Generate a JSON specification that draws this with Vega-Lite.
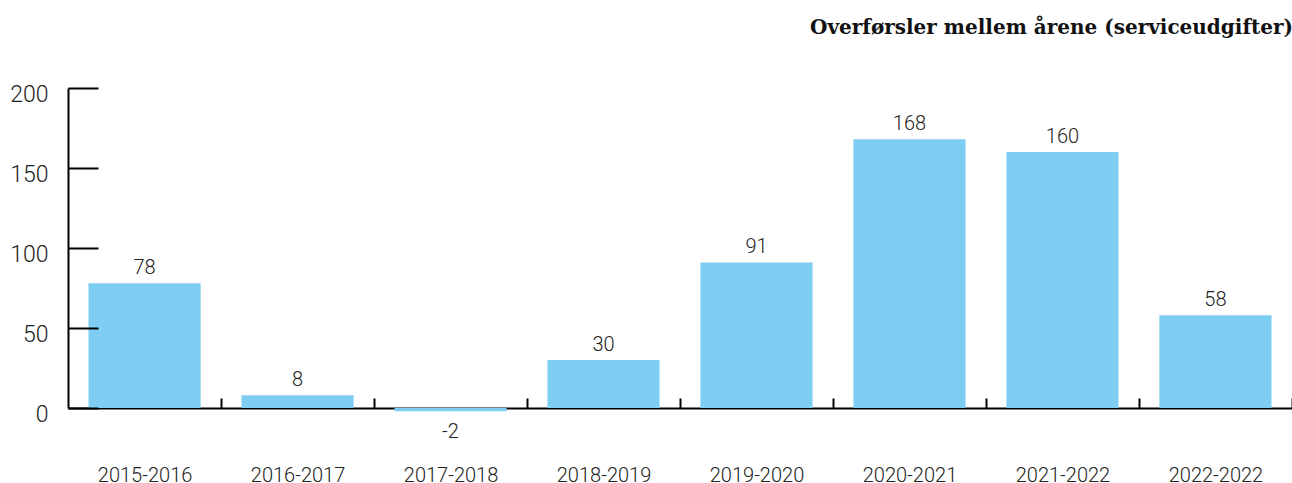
{
  "$schema": "https://vega.github.io/schema/vega-lite/v6.json",
  "width": 1224,
  "height": 320,
  "autosize": "none",
  "padding": {"left": 68, "top": 88, "right": 0, "bottom": 75},
  "background": "white",
  "config": {"view": {"stroke": null}, "font": "Roboto"},
  "title": {
    "text": "Overførsler mellem årene (serviceudgifter)",
    "anchor": "end",
    "font": "DejaVu Serif",
    "fontSize": 20,
    "fontWeight": "bold",
    "color": "#111111",
    "baseline": "alphabetic",
    "offset": 29
  },
  "data": {
    "values": [
      {"period": "2015-2016", "value": 78},
      {"period": "2016-2017", "value": 8},
      {"period": "2017-2018", "value": -2},
      {"period": "2018-2019", "value": 30},
      {"period": "2019-2020", "value": 91},
      {"period": "2020-2021", "value": 168},
      {"period": "2021-2022", "value": 160},
      {"period": "2022-2022", "value": 58}
    ]
  },
  "encoding": {
    "x": {
      "field": "period",
      "type": "nominal",
      "sort": null,
      "scale": {"paddingInner": 0.267, "paddingOuter": 0.134},
      "axis": {
        "title": null,
        "labelAngle": 0,
        "labelFontSize": 20,
        "labelFontWeight": 300,
        "labelColor": "#222222",
        "labelPadding": 67,
        "labelOffset": -20.5,
        "domainColor": "#000000",
        "domainWidth": 2,
        "bandPosition": 1,
        "tickOffset": 20.5,
        "tickSize": -10,
        "tickWidth": 2,
        "tickColor": "#000000",
        "zindex": 0
      }
    },
    "y": {
      "field": "value",
      "type": "quantitative",
      "scale": {"domain": [0, 200], "nice": false},
      "axis": {
        "title": null,
        "values": [0, 50, 100, 150, 200],
        "grid": false,
        "labelFontSize": 23,
        "labelFontWeight": 300,
        "labelColor": "#222222",
        "labelPadding": 50,
        "labelOffset": 6,
        "domainColor": "#000000",
        "domainWidth": 2,
        "tickSize": -30,
        "tickWidth": 2,
        "tickColor": "#000000",
        "zindex": 1
      }
    }
  },
  "layer": [
    {"mark": {"type": "bar", "color": "#7ecef3"}},
    {
      "transform": [{"filter": "datum.value >= 0"}],
      "mark": {"type": "text", "baseline": "alphabetic", "dy": -9, "fontSize": 20, "fontWeight": 300, "color": "#222222"},
      "encoding": {"text": {"field": "value", "type": "nominal"}}
    },
    {
      "transform": [{"filter": "datum.value < 0"}],
      "mark": {"type": "text", "baseline": "top", "dy": 11, "fontSize": 20, "fontWeight": 300, "color": "#222222"},
      "encoding": {"text": {"field": "value", "type": "nominal"}}
    }
  ]
}
